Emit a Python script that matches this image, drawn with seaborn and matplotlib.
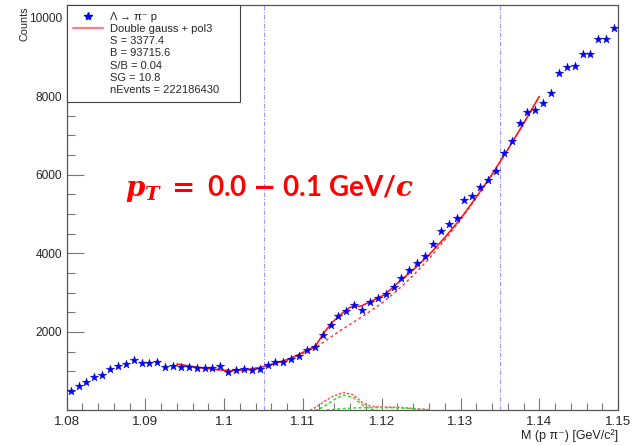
import numpy as np
import pandas as pd
import matplotlib
matplotlib.use("Agg")
import matplotlib.pyplot as plt
import seaborn as sns
from matplotlib.lines import Line2D
from matplotlib.ticker import MultipleLocator, FuncFormatter

# ---------------- data ----------------
# bin centres of the invariant-mass histogram (bin width 0.001 GeV/c^2)
mass = [round(1.0805 + 0.001 * i, 4) for i in range(70)]
counts = [503, 631, 725, 860, 911, 1048, 1132, 1183, 1278, 1209,
          1209, 1234, 1099, 1140, 1107, 1099, 1081, 1073, 1081, 1132,
          987, 1030, 1063, 1030, 1056, 1165, 1226, 1234, 1310, 1395,
          1531, 1616, 1929, 2176, 2412, 2539, 2685, 2560, 2760, 2855,
          2965, 3135, 3379, 3568, 3754, 3923, 4245, 4560, 4738, 4906,
          5364, 5458, 5687, 5860, 6086, 6560, 6850, 7309, 7596, 7639,
          7817, 8080, 8589, 8742, 8759, 9080, 9064, 9455, 9463, 9734]

# total fit (double gauss + pol3)
fit_x = [1.0940, 1.0965, 1.0986, 1.1007, 1.1028, 1.1045, 1.1062, 1.1084,
         1.1105, 1.1116, 1.1126, 1.1136, 1.1147, 1.1160, 1.1174, 1.1185,
         1.1204, 1.1220, 1.1240, 1.1260, 1.1280, 1.1300, 1.1320, 1.1340,
         1.1360, 1.1380, 1.1400]
fit_y = [1180, 1100, 1048, 1013, 1031, 1090, 1183, 1319,
         1530, 1645, 1960, 2220, 2430, 2630, 2660, 2765,
         2950, 3240, 3580, 3960, 4400, 4880, 5430, 6010,
         6640, 7300, 7990]

# pol3 background component
bkg_x = [1.0940, 1.0986, 1.1028, 1.1062, 1.1084, 1.1105, 1.1121, 1.1147,
         1.1172, 1.1200, 1.1220, 1.1240, 1.1260, 1.1280, 1.1300, 1.1320,
         1.1340, 1.1360, 1.1380, 1.1400]
bkg_y = [1180, 1048, 1031, 1180, 1310, 1500, 1667, 2030,
         2347, 2730, 3060, 3440, 3860, 4340, 4850, 5410,
         6000, 6635, 7297, 7988]

# signal components
sig_x = [1.1109, 1.1121, 1.1130, 1.1138, 1.1151, 1.1164, 1.1176, 1.1187,
         1.1206, 1.1222, 1.1240, 1.1261]
sig_y = [0, 145, 270, 356, 458, 400, 188, 102, 85, 80, 50, 15]
g1_x = [1.1115, 1.1125, 1.1138, 1.1151, 1.1164, 1.1176, 1.1187, 1.1195]
g1_y = [0, 80, 260, 395, 330, 130, 30, 0]
g2_x = [1.1130, 1.1150, 1.1170, 1.1190, 1.1220, 1.1240, 1.1261]
g2_y = [10, 50, 70, 75, 70, 45, 15]

window = [1.105, 1.135]

legend_labels = ["Λ → π⁻ p", "Double gauss + pol3", "S = 3377.4",
                 "B = 93715.6", "S/B = 0.04", "SG = 10.8",
                 "nEvents = 222186430"]
annotation = (r"$\mathbfit{p}_{\mathbfit{T}}$ $\mathbf{=}$ 0.0 "
              r"$\mathbf{-}$ 0.1 GeV/$\mathbfit{c}$")

# ---------------- style ----------------
sns.set_style("white")
plt.rcParams["font.family"] = ["Liberation Sans", "DejaVu Sans"]

fig = plt.figure(figsize=(6.34, 4.46), dpi=100)
ax = fig.add_axes([0.1052, 0.0796, 0.8696, 0.9092])

df = pd.DataFrame({"mass": mass, "counts": counts})
sns.scatterplot(data=df, x="mass", y="counts", marker="*", s=40,
                color="blue", edgecolor="#0000cc", linewidth=0.3, ax=ax, zorder=4)

sns.lineplot(x=fit_x, y=fit_y, color="#ff1a1a", lw=1.2, ax=ax, zorder=3,
             estimator=None, sort=False)
sns.lineplot(x=bkg_x, y=bkg_y, color="#ff3030", lw=1.0, ax=ax, zorder=2,
             estimator=None, sort=False, linestyle=(0, (2, 2)))
sns.lineplot(x=sig_x, y=sig_y, color="#ff6060", lw=1.2, ax=ax, zorder=2,
             estimator=None, sort=False, linestyle=(0, (1.5, 1)))
sns.lineplot(x=g1_x, y=g1_y, color="#33dd33", lw=1.1, ax=ax, zorder=2,
             estimator=None, sort=False, linestyle=(0, (2, 1.5)))
sns.lineplot(x=g2_x, y=g2_y, color="#33dd33", lw=1.1, ax=ax, zorder=2,
             estimator=None, sort=False, linestyle=(0, (2, 1.5)))

for w in window:
    ax.axvline(w, color="#9a9aff", lw=0.8, linestyle=(0, (4, 1.5, 1, 1.5)), zorder=1)

ax.set_xlim(1.08, 1.15)
ax.set_ylim(0, 10320)

ax.xaxis.set_major_locator(MultipleLocator(0.01))
ax.xaxis.set_minor_locator(MultipleLocator(0.002))
ax.yaxis.set_major_locator(MultipleLocator(2000))
ax.yaxis.set_minor_locator(MultipleLocator(500))
ax.xaxis.set_major_formatter(FuncFormatter(lambda v, p: f"{v:.2f}".rstrip("0")))
ax.yaxis.set_major_formatter(FuncFormatter(lambda v, p: "" if abs(v) < 1 else f"{v:.0f}"))

ax.tick_params(axis="x", which="major", direction="in", length=8.6, width=0.8,
               color="#777777", labelsize=9.6, pad=4.3, top=False, bottom=True)
ax.tick_params(axis="x", which="minor", direction="in", length=5, width=0.8,
               color="#777777", top=False, bottom=True)
ax.tick_params(axis="y", which="major", direction="in", length=12, width=0.8,
               color="#777777", labelsize=8.6, pad=3.3, left=True, right=False)
ax.tick_params(axis="y", which="minor", direction="in", length=5.8, width=0.8,
               color="#777777", left=True, right=False)
for s in ax.spines.values():
    s.set_color("#555555")
    s.set_linewidth(0.9)
ax.set_axisbelow(True)

ax.set_xlabel("M (p π⁻) [GeV/c²]", fontsize=9, loc="right")
ax.xaxis.set_label_coords(1.0, -0.046)
ax.set_ylabel("Counts", fontsize=7.8, loc="top")
ax.yaxis.set_label_coords(-0.068, 0.996)

handles = [Line2D([], [], marker="*", color="blue", ls="none", markersize=6),
           Line2D([], [], color="#ff8080", lw=1.6)]
handles += [Line2D([], [], ls="none", alpha=0) for _ in legend_labels[2:]]
leg = ax.legend(handles, legend_labels, loc="upper left",
                bbox_to_anchor=(0, 1, 0.314, 0), mode="expand",
                borderaxespad=0, frameon=True, fancybox=False,
                edgecolor="#444444", fontsize=8, handlelength=2.7,
                handletextpad=0.6, labelspacing=0.2, borderpad=0.6)
leg.get_frame().set_linewidth(0.8)
leg.get_frame().set_facecolor("white")
leg.get_frame().set_alpha(1)
leg.set_zorder(5)

ax.text(0.105, 0.529, annotation, transform=ax.transAxes, color="red",
        fontsize=20, fontweight="bold", family="Lato",
        math_fontfamily="dejavuserif", va="baseline", ha="left", zorder=6)

fig.savefig("out.png", dpi=100)
